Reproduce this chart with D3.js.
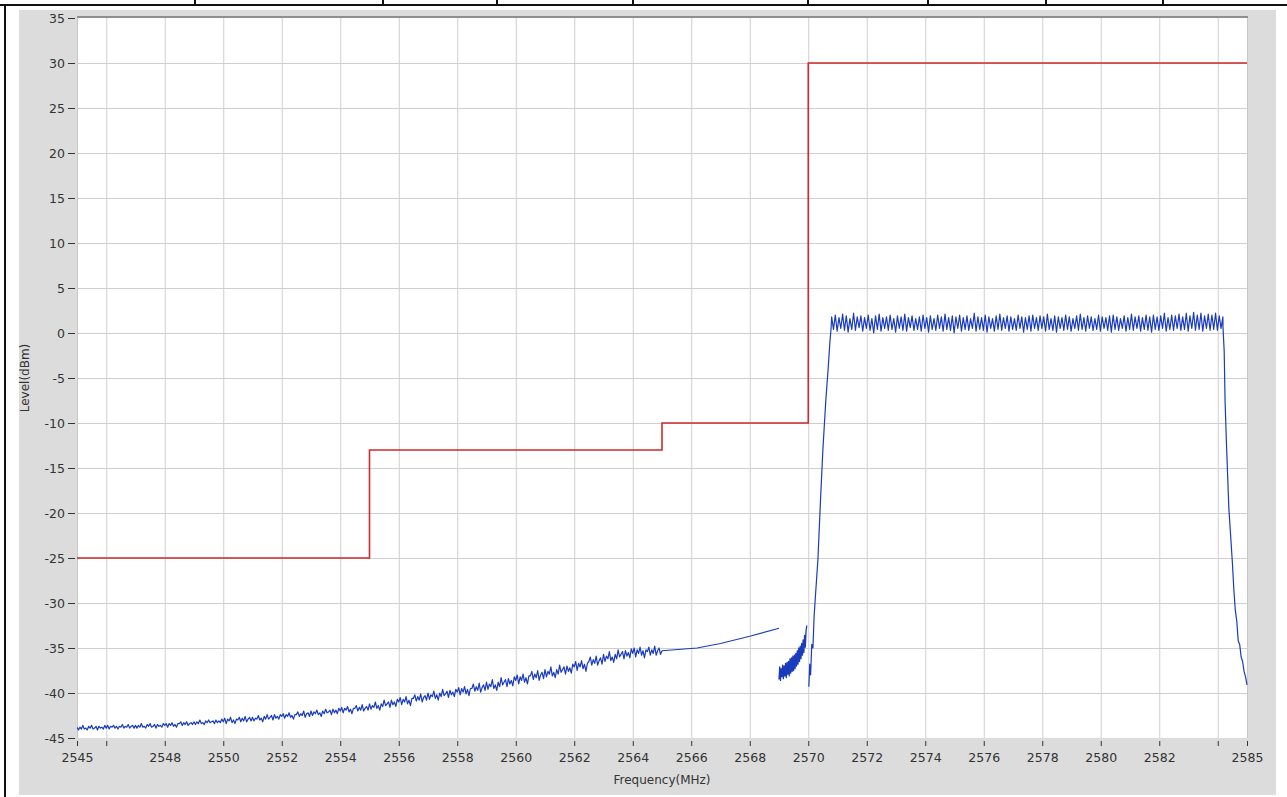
<!DOCTYPE html>
<html>
<head>
<meta charset="utf-8">
<script src="https://cdn.jsdelivr.net/npm/d3@7"></script>
<style>
  html, body { margin: 0; padding: 0; background: #ffffff; }
  svg { display: block; }
  .tick text { font-family: "DejaVu Sans", sans-serif; font-size: 12.5px; fill: #333; }
</style>
</head>
<body>
<svg id="chart" width="1287" height="797"></svg>
<script>
// ---------------- DATA ----------------
const xTickValues = [2545, 2546, 2548, 2550, 2552, 2554, 2556, 2558, 2560, 2562, 2564, 2566, 2568, 2570, 2572, 2574, 2576, 2578, 2580, 2582, 2584, 2585];
const xTickLabels = ["2545", "", "2548", "2550", "2552", "2554", "2556", "2558", "2560", "2562", "2564", "2566", "2568", "2570", "2572", "2574", "2576", "2578", "2580", "2582", "", "2585"];
const yTickValues = [35, 30, 25, 20, 15, 10, 5, 0, -5, -10, -15, -20, -25, -30, -35, -40, -45];
const yTickLabels = ["35", "30", "25", "20", "15", "10", "5", "0", "-5", "-10", "-15", "-20", "-25", "-30", "-35", "-40", "-45"];

// Limit mask (step after)
const limitEdges = [2545, 2555, 2565, 2570, 2585];
const limitLevels = [-25, -13, -10, 30, 30];

// Noise floor, sampled every 0.05 MHz from 2545.00 to 2565.00 (one row per MHz)
const floorStart = 2545.0, floorStep = 0.05;
const floorLevels = [
  -43.8,-44.1,-43.8,-44.0,-43.6,-44.0,-43.9,-44.1,-43.7,-43.9,-43.6,-44.0,-43.9,-43.7,-44.1,-43.7,-43.9,-43.8,-44.0,-43.6,
  -43.9,-43.6,-44.0,-43.7,-43.8,-43.6,-43.9,-43.7,-44.0,-43.7,-43.8,-43.5,-43.9,-43.7,-43.8,-43.5,-43.9,-43.7,-43.6,-43.9,
  -43.6,-43.9,-43.6,-43.8,-43.4,-43.8,-43.7,-43.9,-43.5,-43.7,-43.4,-43.8,-43.7,-43.5,-43.9,-43.5,-43.7,-43.6,-43.8,-43.4,
  -43.6,-43.4,-43.8,-43.4,-43.6,-43.3,-43.7,-43.5,-43.8,-43.4,-43.4,-43.2,-43.6,-43.3,-43.5,-43.2,-43.6,-43.4,-43.3,-43.5,
  -43.2,-43.5,-43.2,-43.4,-43.0,-43.4,-43.3,-43.5,-43.1,-43.3,-43.0,-43.3,-43.2,-43.1,-43.4,-43.0,-43.3,-43.1,-43.3,-42.9,
  -43.2,-42.8,-43.4,-42.9,-43.1,-42.7,-43.3,-43.0,-43.4,-42.9,-43.0,-42.7,-43.2,-42.8,-43.1,-42.6,-43.2,-42.9,-42.7,-43.1,
  -42.7,-43.1,-42.8,-42.9,-42.5,-43.0,-42.8,-43.2,-42.6,-42.9,-42.4,-42.9,-42.7,-42.5,-43.0,-42.4,-42.8,-42.6,-42.9,-42.4,
  -42.6,-42.3,-42.8,-42.4,-42.6,-42.2,-42.7,-42.5,-42.9,-42.4,-42.4,-42.1,-42.6,-42.3,-42.5,-42.0,-42.7,-42.3,-42.2,-42.6,
  -42.0,-42.5,-42.1,-42.3,-41.9,-42.4,-42.2,-42.6,-42.0,-42.3,-41.8,-42.2,-42.1,-41.9,-42.4,-41.8,-42.2,-41.9,-42.3,-41.7,
  -42.0,-41.6,-42.2,-41.7,-41.9,-41.5,-42.1,-41.8,-42.3,-41.7,-41.7,-41.4,-42.0,-41.6,-41.9,-41.3,-42.0,-41.7,-41.5,-41.9,
  -41.2,-41.8,-41.4,-41.6,-41.0,-41.7,-41.4,-41.9,-41.2,-41.5,-40.8,-41.4,-41.2,-41.0,-41.6,-40.8,-41.3,-41.0,-41.5,-40.7,
  -41.0,-40.5,-41.3,-40.7,-41.0,-40.4,-41.2,-40.8,-41.4,-40.6,-40.6,-40.2,-40.9,-40.4,-40.8,-40.1,-41.0,-40.5,-40.3,-40.8,
  -40.0,-40.7,-40.2,-40.4,-39.8,-40.6,-40.2,-40.8,-40.0,-40.4,-39.6,-40.3,-40.1,-39.8,-40.5,-39.7,-40.2,-39.9,-40.4,-39.6,
  -39.9,-39.4,-40.2,-39.5,-39.9,-39.3,-40.1,-39.6,-40.3,-39.5,-39.5,-39.0,-39.8,-39.3,-39.7,-38.9,-39.9,-39.4,-39.1,-39.7,
  -38.8,-39.6,-39.0,-39.3,-38.5,-39.5,-39.1,-39.7,-38.8,-39.3,-38.3,-39.1,-38.8,-38.5,-39.3,-38.4,-39.0,-38.6,-39.2,-38.2,
  -38.6,-38.0,-39.0,-38.2,-38.6,-37.9,-38.8,-38.3,-39.0,-38.1,-38.1,-37.6,-38.5,-37.9,-38.3,-37.5,-38.6,-38.0,-37.7,-38.4,
  -37.4,-38.2,-37.6,-37.9,-37.1,-38.1,-37.7,-38.3,-37.4,-37.9,-36.9,-37.7,-37.4,-37.1,-37.9,-37.0,-37.6,-37.2,-37.8,-36.8,
  -37.1,-36.5,-37.5,-36.7,-37.1,-36.4,-37.3,-36.8,-37.6,-36.7,-36.5,-36.0,-36.9,-36.3,-36.7,-35.9,-36.9,-36.4,-36.1,-36.8,
  -35.7,-36.5,-35.9,-36.2,-35.4,-36.4,-36.0,-36.6,-35.7,-36.2,-35.2,-36.0,-35.7,-35.4,-36.2,-35.3,-35.9,-35.5,-36.1,-35.1,
  -35.6,-35.0,-36.0,-35.2,-35.6,-34.9,-35.8,-35.3,-36.1,-35.2,-35.4,-34.9,-35.8,-35.2,-35.6,-34.8,-35.8,-35.3,-35.0,-35.7,
  -35.3
];

// Thin line after the floor
const rampFreqs  = [2565.0, 2566.2, 2567.0, 2568.0, 2569.0];
const rampLevels = [-35.3, -35.0, -34.5, -33.7, -32.8];

// Noisy cluster just below 2570 MHz, sampled every 0.025 MHz
const clusterStart = 2569.0, clusterStep = 0.025;
const clusterLevels = [
  -38.5, -37.1, -38.6, -37.3, -38.2, -36.9, -38.4, -37.0, -38.1, -36.7,
  -38.3, -36.6, -37.9, -36.5, -38.1, -36.2, -37.8, -36.1, -37.6, -35.9,
  -37.5, -35.8, -37.3, -35.6, -37.0, -35.3, -36.8, -35.0, -36.5, -34.8,
  -36.2, -34.5, -35.8, -34.1, -35.5, -33.6, -34.9, -33.1, -32.5
];

// Carrier rising edge
const riseFreqs  = [2570.02, 2570.05, 2570.08, 2570.12, 2570.16, 2570.20, 2570.25, 2570.33, 2570.42, 2570.50, 2570.60, 2570.68, 2570.74, 2570.78];
const riseLevels = [-39.3, -36.8, -38.0, -34.6, -35.0, -31.5, -29.0, -25.2, -18.5, -13.0, -7.5, -4.0, -1.0, 0.5];

// Carrier flat top, sampled every 0.0625 MHz from 2570.8
const topStart = 2570.8, topStep = 0.0625;
const topLevels = [
  1.8, 0.4, 2.0, 0.2, 1.7, 0.5, 2.1, 0.3, 1.9, 0.1, 1.6, 0.4, 2.2, 0.3, 1.8, 0.6,
  1.9, 0.2, 1.7, 0.5, 2.0, 0.3, 1.6, 0.0, 1.9, 0.4, 2.1, 0.2, 1.7, 0.5, 1.8, 0.3,
  2.0, 0.4, 1.6, 0.1, 1.9, 0.5, 1.8, 0.3, 2.1, 0.2, 1.7, 0.6, 1.9, 0.3, 1.6, 0.4,
  1.8, 0.2, 2.0, 0.5, 1.7, 0.1, 1.9, 0.4, 1.6, 0.3, 2.0, 0.5, 1.8, 0.2, 2.1, 0.4,
  1.7, 0.3, 1.9, 0.0, 1.8, 0.5, 2.0, 0.2, 1.7, 0.4, 1.9, 0.3, 1.6, 0.5, 2.2, 0.2,
  1.8, 0.4, 1.7, 0.3, 2.0, 0.1, 1.8, 0.5, 1.6, 0.2, 1.9, 0.4, 2.1, 0.3, 1.7, 0.5,
  1.9, 0.2, 1.8, 0.4, 1.6, 0.3, 2.0, 0.5, 1.8, 0.1, 1.7, 0.4, 1.9, 0.2, 2.0, 0.5,
  1.7, 0.3, 1.9, 0.5, 1.8, 0.2, 2.1, 0.4, 1.6, 0.3, 1.9, 0.1, 1.8, 0.5, 1.7, 0.3,
  2.0, 0.4, 1.8, 0.2, 1.6, 0.5, 1.9, 0.3, 2.1, 0.4, 1.7, 0.2, 1.9, 0.5, 1.8, 0.3,
  1.6, 0.4, 2.0, 0.2, 1.8, 0.5, 1.7, 0.3, 1.9, 0.1, 2.0, 0.4, 1.8, 0.3, 1.6, 0.5,
  1.9, 0.2, 1.7, 0.4, 2.1, 0.3, 1.8, 0.5, 1.9, 0.2, 1.7, 0.4, 2.0, 0.3, 1.8, 0.1,
  2.0, 0.4, 1.8, 0.3, 1.9, 0.5, 2.2, 0.2, 1.7, 0.4, 2.0, 0.3, 1.9, 0.5, 2.1, 0.3,
  1.8, 0.4, 2.2, 0.2, 1.9, 0.5, 2.3, 0.3, 2.0, 0.4, 2.2, 0.2, 1.9, 0.5, 2.1, 0.3,
  2.0, 0.4, 2.2, 0.3, 1.9, 0.5, 1.8
];

// Carrier falling edge
const fallFreqs  = [2584.18, 2584.22, 2584.25, 2584.30, 2584.38, 2584.45, 2584.50, 2584.55, 2584.60, 2584.65, 2584.70, 2584.75, 2584.80, 2584.85, 2584.90, 2584.95, 2585.00];
const fallLevels = [0.6, -2.0, -7.5, -12.5, -19.5, -23.0, -25.5, -28.5, -30.8, -32.0, -34.2, -34.6, -36.0, -36.5, -37.6, -38.2, -39.1];

const headerDividers = [195, 383, 497, 633, 808, 928, 1046, 1163];

// ---------------- DRAW ----------------
const svg = d3.select("#chart");
const W = 1287, H = 797;
const plot = { left: 77, right: 1247, top: 18, bottom: 738 };

const x = d3.scaleLinear().domain([2545, 2585]).range([plot.left, plot.right]);
const y = d3.scaleLinear().domain([-45, 35]).range([plot.bottom, plot.top]);

// page frame (table borders)
svg.append("rect").attr("x", 0).attr("y", 0).attr("width", W).attr("height", H).attr("fill", "#fff");
svg.append("rect").attr("x", 19).attr("y", 10).attr("width", 1257).attr("height", 785).attr("fill", "#dcdcdc");
svg.append("line").attr("x1", 0).attr("x2", W).attr("y1", 5).attr("y2", 5).attr("stroke", "#111").attr("stroke-width", 2);
svg.append("line").attr("x1", 5).attr("x2", 5).attr("y1", 4).attr("y2", H).attr("stroke", "#111").attr("stroke-width", 2);
svg.selectAll(".hdiv").data(headerDividers).enter().append("line")
  .attr("x1", d => d).attr("x2", d => d).attr("y1", 0).attr("y2", 5)
  .attr("stroke", "#111").attr("stroke-width", 2);

// plot background
svg.append("rect").attr("x", plot.left).attr("y", plot.top - 1)
  .attr("width", plot.right - plot.left + 1).attr("height", plot.bottom - plot.top + 1)
  .attr("fill", "#fff");

// grid
const gridX = xTickValues.filter(v => v > 2545 && v < 2585);
svg.append("g").selectAll("line").data(gridX).enter().append("line")
  .attr("x1", d => x(d) + 0.5).attr("x2", d => x(d) + 0.5)
  .attr("y1", plot.top).attr("y2", plot.bottom)
  .attr("stroke", "#cfcfcf").attr("stroke-width", 1);
const gridY = yTickValues.filter(v => v > -45 && v < 35);
svg.append("g").selectAll("line").data(gridY).enter().append("line")
  .attr("x1", plot.left).attr("x2", plot.right)
  .attr("y1", d => y(d) + 0.5).attr("y2", d => y(d) + 0.5)
  .attr("stroke", "#cfcfcf").attr("stroke-width", 1);
// plot frame
svg.append("line").attr("x1", plot.left).attr("x2", plot.right + 1)
  .attr("y1", plot.top - 1).attr("y2", plot.top - 1).attr("stroke", "#8f8f8f").attr("stroke-width", 2);
svg.append("line").attr("x1", plot.left + 0.5).attr("x2", plot.left + 0.5)
  .attr("y1", plot.top).attr("y2", plot.bottom).attr("stroke", "#c8c8c8").attr("stroke-width", 1);
svg.append("line").attr("x1", plot.right + 0.5).attr("x2", plot.right + 0.5)
  .attr("y1", plot.top).attr("y2", plot.bottom).attr("stroke", "#c8c8c8").attr("stroke-width", 1);

// axes
const yAxis = d3.axisLeft(y).tickValues(yTickValues)
  .tickFormat((d, i) => yTickLabels[i]).tickSize(7).tickPadding(3);
const gy = svg.append("g").attr("transform", `translate(${plot.left - 2},0)`).call(yAxis);
gy.select(".domain").remove();
gy.selectAll(".tick line").attr("stroke", "#333");

const xAxis = d3.axisBottom(x).tickValues(xTickValues)
  .tickFormat((d, i) => xTickLabels[i]).tickSize(5).tickPadding(7);
const gx = svg.append("g").attr("transform", `translate(0,${plot.bottom + 3})`).call(xAxis);
gx.select(".domain").remove();
gx.selectAll(".tick line").attr("stroke", "#333");

// axis titles
svg.append("text").attr("x", (plot.left + plot.right) / 2 + 0).attr("y", 784)
  .attr("text-anchor", "middle").attr("font-family", "DejaVu Sans, sans-serif")
  .attr("font-size", 12).attr("fill", "#333").text("Frequency(MHz)");
svg.append("text").attr("transform", `translate(29,${(plot.top + plot.bottom) / 2}) rotate(-90)`)
  .attr("text-anchor", "middle").attr("font-family", "DejaVu Sans, sans-serif")
  .attr("font-size", 12).attr("fill", "#333").text("Level(dBm)");

// clip
svg.append("clipPath").attr("id", "clip").append("rect")
  .attr("x", plot.left).attr("y", plot.top - 1)
  .attr("width", plot.right - plot.left + 1).attr("height", plot.bottom - plot.top + 2);
const g = svg.append("g").attr("clip-path", "url(#clip)");

// limit line
const limitLine = d3.line().x(d => x(d[0])).y(d => y(d[1])).curve(d3.curveStepAfter);
g.append("path").datum(limitEdges.map((f, i) => [f, limitLevels[i]]))
  .attr("d", limitLine).attr("fill", "none").attr("stroke", "#d02a2a").attr("stroke-width", 1.6);

// trace
const traceLine = d3.line().x(d => x(d[0])).y(d => y(d[1]));
const blue = "#1a3cbc";
const floorPts = floorLevels.map((v, i) => [floorStart + i * floorStep, v]);
const rampPts = rampFreqs.map((f, i) => [f, rampLevels[i]]);
const clusterPts = clusterLevels.map((v, i) => [clusterStart + i * clusterStep, v]);
const carrierPts = riseFreqs.map((f, i) => [f, riseLevels[i]])
  .concat(topLevels.map((v, i) => [topStart + i * topStep, v]))
  .concat(fallFreqs.map((f, i) => [f, fallLevels[i]]));

[[floorPts, 1.2], [rampPts, 1.1], [clusterPts, 1.3], [carrierPts, 1.2]].forEach(([pts, w]) => {
  g.append("path").datum(pts).attr("d", traceLine)
    .attr("fill", "none").attr("stroke", blue).attr("stroke-width", w)
    .attr("stroke-linejoin", "round");
});
</script>
</body>
</html>
